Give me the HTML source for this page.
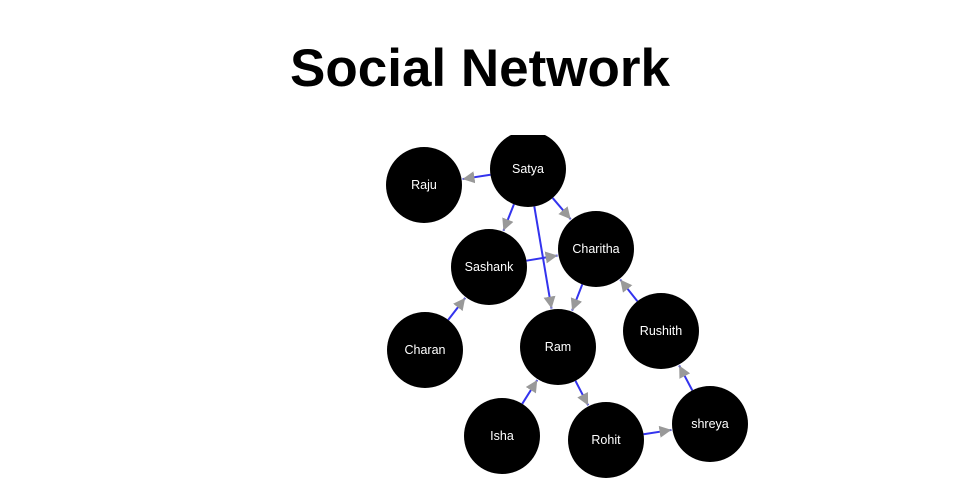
<!DOCTYPE html>
<html><head><meta charset="utf-8"><style>
html,body{margin:0;padding:0;background:#fff;width:960px;height:500px;overflow:hidden}
h1{position:absolute;top:39px;left:0;width:960px;margin:0;text-align:center;font:bold 53px "Liberation Sans",sans-serif;color:#000;line-height:60px}
svg{position:absolute;left:0;top:0}
text{font-family:"Liberation Sans",sans-serif;font-size:12.5px;fill:#fff;text-anchor:middle;dominant-baseline:central}
</style></head><body>
<h1>Social Network</h1>
<svg width="960" height="500">
<defs>
<clipPath id="c"><rect x="0" y="135" width="960" height="365"/></clipPath>
<marker id="a" viewBox="0 0 10 10" refX="10" refY="5" markerWidth="12" markerHeight="12" markerUnits="userSpaceOnUse" orient="auto"><path d="M0,0L10,5L0,10z" fill="#999"/></marker>
</defs>
<g clip-path="url(#c)" id="g"></g>
</svg>
<script>
var N={Satya:[528,169],Raju:[424,185],Sashank:[489,267],Charitha:[596,249],Charan:[425,350],Ram:[558,347],Rushith:[661,331],Isha:[502,436],Rohit:[606,440],shreya:[710,424]};
var E=[["Satya","Raju"],["Satya","Sashank"],["Satya","Charitha"],["Satya","Ram"],["Sashank","Charitha"],["Charitha","Ram"],["Rushith","Charitha"],["Charan","Sashank"],["Isha","Ram"],["Ram","Rohit"],["Rohit","shreya"],["shreya","Rushith"]];
var R=38,s="";
E.forEach(function(e){var a=N[e[0]],b=N[e[1]],dx=b[0]-a[0],dy=b[1]-a[1],d=Math.hypot(dx,dy),ux=dx/d,uy=dy/d;
s+='<line x1="'+(a[0]+ux*R)+'" y1="'+(a[1]+uy*R)+'" x2="'+(b[0]-ux*(R+1))+'" y2="'+(b[1]-uy*(R+1))+'" stroke="#3333ee" stroke-width="2" marker-end="url(#a)"/>';});
for(var k in N){s+='<circle cx="'+N[k][0]+'" cy="'+N[k][1]+'" r="'+R+'" fill="#000"/><text x="'+N[k][0]+'" y="'+N[k][1]+'">'+k+'</text>';}
document.getElementById("g").innerHTML=s;
</script>
</body></html>
